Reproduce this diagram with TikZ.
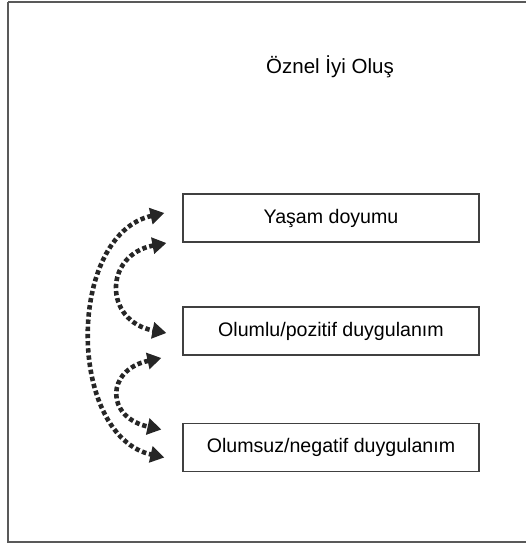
\documentclass[tikz,border=0pt]{standalone}
\usepackage{fontspec}
\setmainfont{Liberation Sans}
\usetikzlibrary{arrows.meta,calc}
\begin{document}
\begin{tikzpicture}[x=1pt,y=-1pt,
  boxnode/.style={draw=black!75,line width=1.2pt,minimum width=296pt,minimum height=48pt,inner sep=0pt,font=\fontsize{19.6}{22}\selectfont},
  dotarrow/.style={line width=4.6pt,dash pattern=on 4.4pt off 2.8pt,black!85,
    {Triangle[length=14pt,width=16pt]}-{Triangle[length=14pt,width=16pt]}}]
\useasboundingbox (0,0) rectangle (526,544);
\draw[black!65,line width=1.6pt] (8,2) -- (530,2) (8,2) -- (8,542) -- (530,542);
\node[font=\fontsize{20.5}{24}\selectfont] (title) at (330,67) {Öznel İyi Oluş};
\node[boxnode] (b1) at (331,218) {Yaşam doyumu};
\node[boxnode] (b2) at (331,331) {Olumlu/pozitif duygulanım};
\node[boxnode] (b3) at (331,447.5) {Olumsuz/negatif duygulanım};
\coordinate (o1) at ($(b1.west)+(-18,-5)$);
\coordinate (o2) at ($(b3.west)+(-18,10)$);
\coordinate (i1) at ($(b1.west)+(-16,25)$);
\coordinate (i2) at ($(b2.west)+(-16,2)$);
\coordinate (j1) at ($(b2.west)+(-21,27)$);
\coordinate (j2) at ($(b3.west)+(-21,-18)$);
\draw[dotarrow] (o1) .. controls ($(o1)+(-98,22)$) and ($(o2)+(-98,-22)$) .. (o2);
\draw[dotarrow] (i1) .. controls ($(i1)+(-63,12)$) and ($(i2)+(-63,-12)$) .. (i2);
\draw[dotarrow] (j1) .. controls ($(j1)+(-56,12)$) and ($(j2)+(-56,-12)$) .. (j2);
\end{tikzpicture}
\end{document}
